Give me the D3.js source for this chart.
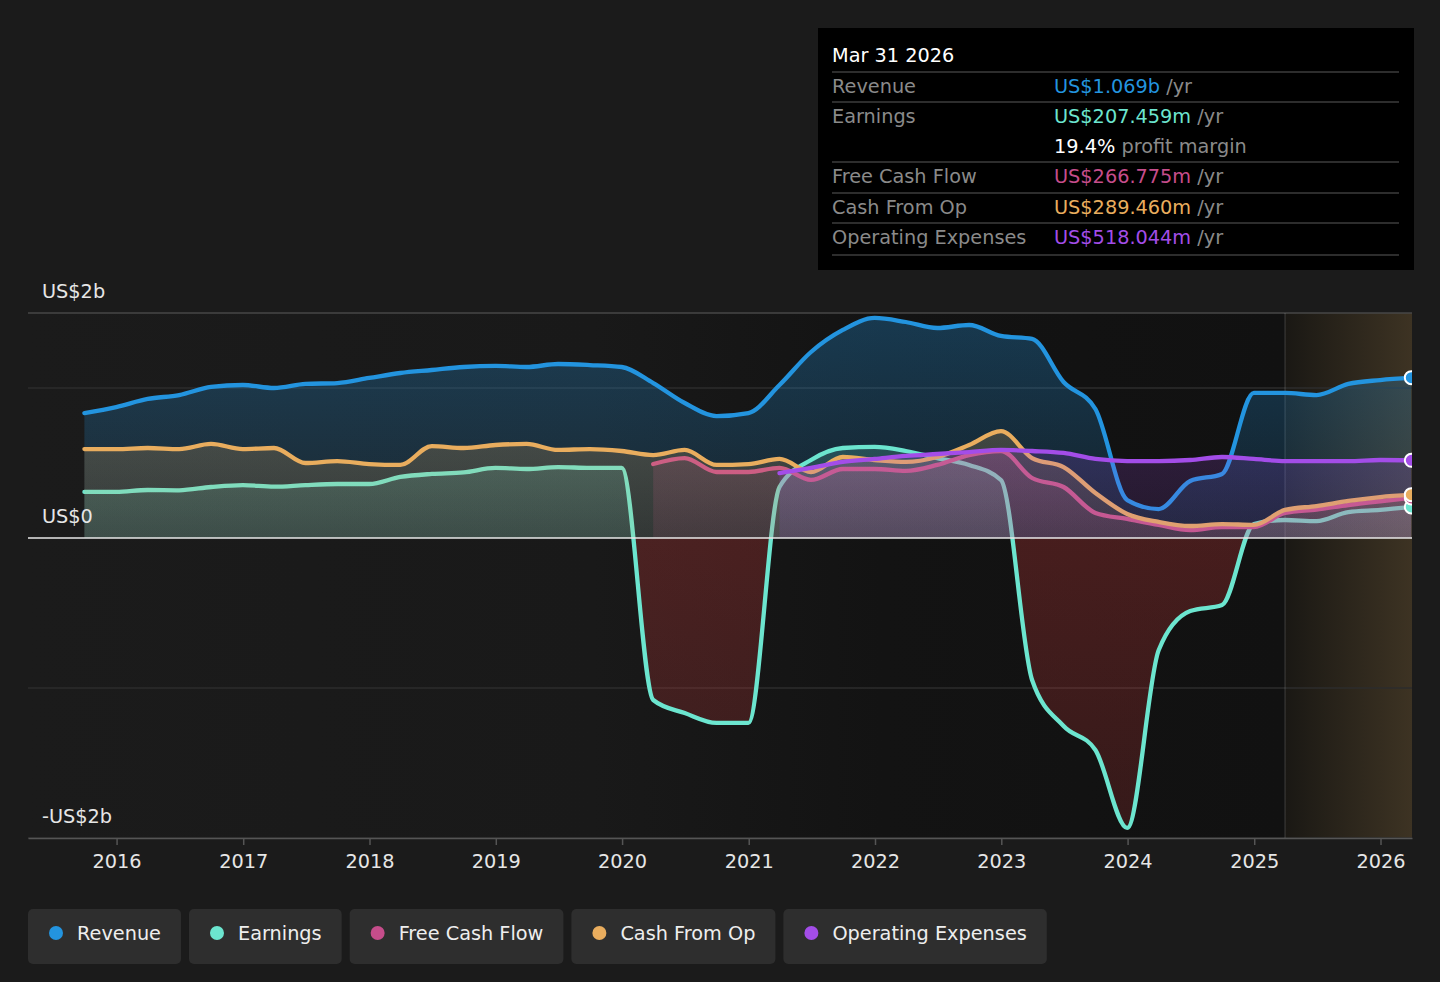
<!DOCTYPE html>
<html>
<head>
<meta charset="utf-8">
<script src="https://cdn.jsdelivr.net/npm/d3@7"></script>
<style>
  body { margin: 0; background: #1b1b1b; }
  svg { display: block; font-family: "DejaVu Sans", sans-serif; }
</style>
</head>
<body>
<svg width="1440" height="982"></svg>
<script>
// quarter ends, Sep 2015 .. Mar 2026
const quarters = [
  '2015-09-30', '2015-12-31', '2016-03-31', '2016-06-30', '2016-09-30', '2016-12-31',
  '2017-03-31', '2017-06-30', '2017-09-30', '2017-12-31', '2018-03-31', '2018-06-30',
  '2018-09-30', '2018-12-31', '2019-03-31', '2019-06-30', '2019-09-30', '2019-12-31',
  '2020-03-31', '2020-06-30', '2020-09-30', '2020-12-31', '2021-03-31', '2021-06-30',
  '2021-09-30', '2021-12-31', '2022-03-31', '2022-06-30', '2022-09-30', '2022-12-31',
  '2023-03-31', '2023-06-30', '2023-09-30', '2023-12-31', '2024-03-31', '2024-06-30',
  '2024-09-30', '2024-12-31', '2025-03-31', '2025-06-30', '2025-09-30', '2025-12-31',
  '2026-03-31'
];

// values in US$ billions
const revenue = [
  0.833, 0.873, 0.927, 0.953, 1.007, 1.02, 1.0, 1.027, 1.033, 1.067, 1.1, 1.12,
  1.14, 1.147, 1.14, 1.16, 1.153, 1.14, 1.033, 0.9, 0.813, 0.833, 1.02, 1.24,
  1.387, 1.467, 1.44, 1.4, 1.42, 1.347, 1.327, 1.04, 0.86, 0.253, 0.193, 0.38,
  0.427, 0.967, 0.967, 0.953, 1.027, 1.053, 1.069
];
const earnings = [
  0.307, 0.307, 0.32, 0.318, 0.34, 0.353, 0.342, 0.353, 0.36, 0.36, 0.407, 0.427,
  0.437, 0.467, 0.46, 0.473, 0.467, 0.467, -1.08, -1.167, -1.233, -1.233, 0.34, 0.52,
  0.6, 0.607, 0.58, 0.533, 0.487, 0.387, -0.947, -1.253, -1.413, -1.933, -0.747, -0.487,
  -0.447, 0.093, 0.12, 0.113, 0.173, 0.187, 0.207
];
const freeCashFlow = [
  null, null, null, null, null, null, null, null, null, null, null, null,
  null, null, null, null, null, null, 0.493, 0.533, 0.44, 0.44, 0.467, 0.387,
  0.46, 0.46, 0.447, 0.487, 0.553, 0.58, 0.4, 0.34, 0.167, 0.127, 0.087, 0.053,
  0.073, 0.073, 0.167, 0.19, 0.22, 0.245, 0.267
];
const cashFromOp = [
  0.593, 0.593, 0.6, 0.593, 0.627, 0.593, 0.6, 0.5, 0.513, 0.493, 0.487, 0.613,
  0.6, 0.62, 0.627, 0.587, 0.593, 0.58, 0.553, 0.587, 0.487, 0.493, 0.527, 0.44,
  0.54, 0.52, 0.507, 0.54, 0.62, 0.713, 0.533, 0.473, 0.3, 0.16, 0.107, 0.08,
  0.093, 0.087, 0.187, 0.213, 0.247, 0.273, 0.289
];
const operatingExpenses = [
  null, null, null, null, null, null, null, null, null, null, null, null,
  null, null, null, null, null, null, null, null, null, null, 0.433, 0.467,
  0.507, 0.527, 0.547, 0.56, 0.573, 0.587, 0.58, 0.567, 0.527, 0.513, 0.513, 0.52,
  0.54, 0.527, 0.513, 0.513, 0.513, 0.52, 0.518
];

const seriesNames = ['Revenue', 'Earnings', 'Free Cash Flow', 'Cash From Op', 'Operating Expenses'];
const seriesColors = ['#2394df', '#6ce5cf', '#c64d8b', '#e9ad5e', '#a34de8'];

const yTickValues = [1.5, 0, -2];
const yTickLabels = ['US$2b', 'US$0', '-US$2b'];
const yGridValues = [1.5, 1, 0, -1, -2];

const forecastStart = '2025-03-31';

const tooltipTitle = 'Mar 31 2026';
const tooltipRows = [
  { label: 'Revenue', value: 'US$1.069b', color: '#2394df' },
  { label: 'Earnings', value: 'US$207.459m', color: '#6ce5cf' },
  { label: '', value: '19.4%', color: '#ffffff', suffix: ' profit margin' },
  { label: 'Free Cash Flow', value: 'US$266.775m', color: '#c64d8b' },
  { label: 'Cash From Op', value: 'US$289.460m', color: '#e9ad5e' },
  { label: 'Operating Expenses', value: 'US$518.044m', color: '#a34de8' },
];

const FONT = 19.3;

const parse = d3.timeParse('%Y-%m-%d');
const dates = quarters.map(parse);
const series = [revenue, earnings, freeCashFlow, cashFromOp, operatingExpenses].map((vals, i) => ({
  key: 's' + i,
  name: seriesNames[i],
  color: seriesColors[i],
  points: vals.map((v, j) => ({ date: dates[j], v })),
}));

const svg = d3.select('svg');
const box = { left: 28, right: 1412, top: 313, bottom: 838 };

const x = d3.scaleTime()
  .domain([new Date(2015, 3, 20), new Date(2026, 3, 2)])
  .range([box.left, box.right]);
const y = d3.scaleLinear().domain([-2, 1.5]).range([box.bottom, box.top]);

const defs = svg.append('defs');

// plot background, dark toward the forecast
const bgGrad = defs.append('linearGradient').attr('id', 'bg-past')
  .attr('x1', 0).attr('x2', 1).attr('y1', 0).attr('y2', 0);
[[0, '#1b1b1b'], [0.45, '#191919'], [0.68, '#131313'], [1, '#111111']].forEach(([o, c]) =>
  bgGrad.append('stop').attr('offset', o).attr('stop-color', c));
const fcGrad = defs.append('linearGradient').attr('id', 'bg-forecast')
  .attr('x1', 0).attr('x2', 1).attr('y1', 0).attr('y2', 0);
[[0, '#1a1814'], [1, '#3d3323']].forEach(([o, c]) =>
  fcGrad.append('stop').attr('offset', o).attr('stop-color', c));

const xf = x(parse(forecastStart));
svg.append('rect').attr('x', box.left).attr('y', box.top)
  .attr('width', xf - box.left).attr('height', box.bottom - box.top)
  .attr('fill', 'url(#bg-past)');
svg.append('rect').attr('x', xf).attr('y', box.top)
  .attr('width', box.right - xf).attr('height', box.bottom - box.top)
  .attr('fill', 'url(#bg-forecast)');

// grid
svg.append('g').selectAll('line')
  .data(yGridValues.filter(v => v !== 0))
  .join('line')
  .attr('x1', box.left).attr('x2', box.right)
  .attr('y1', d => y(d)).attr('y2', d => y(d))
  .attr('stroke', d => d === 1.5 ? '#474747' : '#2c2c2c')
  .attr('stroke-width', 1.5);

svg.append('line')
  .attr('x1', xf).attr('x2', xf).attr('y1', box.top).attr('y2', box.bottom)
  .attr('stroke', '#ffffff').attr('stroke-opacity', 0.12).attr('stroke-width', 1.5);

// clip paths
defs.append('clipPath').attr('id', 'plot-clip').append('rect')
  .attr('x', box.left).attr('y', box.top - 10)
  .attr('width', box.right - box.left).attr('height', box.bottom - box.top + 10);
defs.append('clipPath').attr('id', 'pos-clip').append('rect')
  .attr('x', box.left).attr('y', 0).attr('width', box.right - box.left).attr('height', y(0));
defs.append('clipPath').attr('id', 'neg-clip').append('rect')
  .attr('x', box.left).attr('y', y(0)).attr('width', box.right - box.left).attr('height', box.bottom - y(0));

function addGradient(id, color, y1, y2, o1, o2) {
  const g = defs.append('linearGradient').attr('id', id)
    .attr('gradientUnits', 'userSpaceOnUse')
    .attr('x1', 0).attr('x2', 0).attr('y1', y1).attr('y2', y2);
  g.append('stop').attr('offset', 0).attr('stop-color', color).attr('stop-opacity', o1);
  g.append('stop').attr('offset', 1).attr('stop-color', color).attr('stop-opacity', o2);
}

const area = d3.area()
  .defined(d => d.v != null)
  .x(d => x(d.date))
  .y0(y(0))
  .y1(d => y(d.v))
  .curve(d3.curveMonotoneX);
const line = d3.line()
  .defined(d => d.v != null)
  .x(d => x(d.date))
  .y(d => y(d.v))
  .curve(d3.curveMonotoneX);

const plot = svg.append('g').attr('clip-path', 'url(#plot-clip)');

addGradient('neg-fill', '#d63c3c', y(0), y(-2), 0.27, 0.18);

for (const s of series) {
  addGradient('fill-' + s.key, s.color, y(1.5), y(0), 0.3, 0.12);
  plot.append('g').attr('clip-path', 'url(#pos-clip)')
    .append('path')
    .attr('d', area(s.points))
    .attr('fill', `url(#fill-${s.key})`);
  if (s.points.some(d => d.v != null && d.v < 0)) {
    plot.append('g').attr('clip-path', 'url(#neg-clip)')
      .append('path')
      .attr('d', area(s.points))
      .attr('fill', 'url(#neg-fill)');
  }
  plot.append('path')
    .attr('d', line(s.points))
    .attr('fill', 'none')
    .attr('stroke', s.color)
    .attr('stroke-width', 4.3)
    .attr('stroke-linejoin', 'round')
    .attr('stroke-linecap', 'round');
}

// zero line
svg.append('line')
  .attr('x1', box.left).attr('x2', box.right)
  .attr('y1', y(0)).attr('y2', y(0))
  .attr('stroke', '#e8e8e8').attr('stroke-width', 1.5);

// end markers
const endOrder = [0, 4, 1, 2, 3];
plot.append('g').selectAll('circle')
  .data(endOrder.map(i => series[i]))
  .join('circle')
  .attr('cx', s => x(s.points[s.points.length - 1].date))
  .attr('cy', s => y(s.points[s.points.length - 1].v))
  .attr('r', 6.5)
  .attr('fill', s => s.color)
  .attr('stroke', '#ffffff')
  .attr('stroke-width', 2);

// y labels
svg.append('g').selectAll('text')
  .data(yTickValues)
  .join('text')
  .attr('x', 42)
  .attr('y', d => y(d) - 15)
  .attr('fill', '#e6e6e6')
  .attr('font-size', FONT)
  .text((d, i) => yTickLabels[i]);

// x axis
const xAxis = svg.append('g')
  .attr('transform', `translate(0,${box.bottom})`)
  .call(d3.axisBottom(x)
    .ticks(d3.timeYear.every(1))
    .tickFormat(d3.timeFormat('%Y'))
    .tickSize(7)
    .tickPadding(9)
    .tickSizeOuter(0));
xAxis.select('.domain').attr('stroke', '#555').attr('stroke-width', 1.5);
xAxis.selectAll('.tick line').attr('stroke', '#555').attr('stroke-width', 1.5);
xAxis.selectAll('.tick text')
  .attr('fill', '#e6e6e6')
  .attr('font-size', FONT)
  .attr('font-family', '"DejaVu Sans", sans-serif');

// tooltip box
const tip = svg.append('g');
tip.append('rect').attr('x', 818).attr('y', 28).attr('width', 596).attr('height', 242).attr('fill', '#000');
tip.append('text').attr('x', 832).attr('y', 62).attr('fill', '#fff').attr('font-size', FONT).text(tooltipTitle);
const rowY = [93, 123, 153, 183, 214, 244];
const sepY = [72, 102, 162, 193, 223, 255];
tip.selectAll('line.sep')
  .data(sepY)
  .join('line')
  .attr('class', 'sep')
  .attr('x1', 832).attr('x2', 1399)
  .attr('y1', d => d).attr('y2', d => d)
  .attr('stroke', '#3d3d3d').attr('stroke-width', 1.5);
tooltipRows.forEach((r, i) => {
  tip.append('text').attr('x', 832).attr('y', rowY[i]).attr('fill', '#8a8a8a')
    .attr('font-size', FONT).text(r.label);
  const t = tip.append('text').attr('x', 1054).attr('y', rowY[i]).attr('font-size', FONT);
  t.append('tspan').attr('fill', r.color).text(r.value);
  t.append('tspan').attr('fill', '#8a8a8a').text(r.suffix || ' /yr');
});

// legend
const legend = svg.append('g');
let lx = 28;
series.forEach(s => {
  const g = legend.append('g');
  const rect = g.append('rect').attr('x', lx).attr('y', 909).attr('height', 55).attr('rx', 5)
    .attr('fill', '#2e2e2e');
  g.append('circle').attr('cx', lx + 28).attr('cy', 933).attr('r', 7).attr('fill', s.color);
  const label = g.append('text').attr('x', lx + 49).attr('y', 940).attr('fill', '#eeeeee')
    .attr('font-size', FONT).text(s.name);
  const w = 49 + label.node().getComputedTextLength() + 20;
  rect.attr('width', w);
  lx += w + 8;
});
</script>
</body>
</html>
